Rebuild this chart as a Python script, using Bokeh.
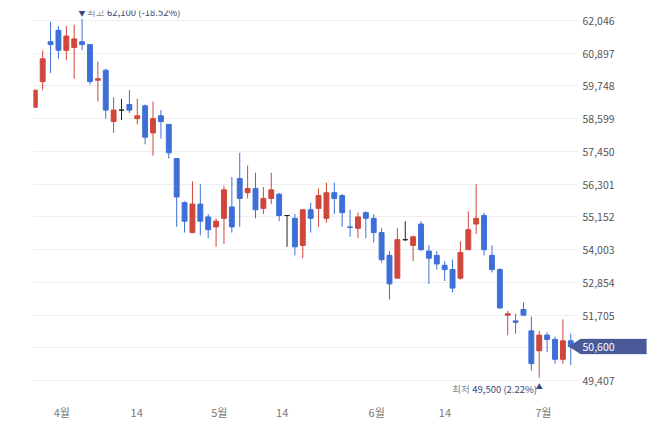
from bokeh.plotting import figure
from bokeh.models import (FixedTicker, NumeralTickFormatter, PolyAnnotation, Label,
                          Range1d, ColumnDataSource)
from bokeh.core.properties import value
from bokeh.embed import file_html
from bokeh.resources import INLINE

# --- data (daily candles, 2023-03-29 .. 2023-07-07) ---
opens = [59000, 59900, 61300, 61700, 61000, 61100, 61300, 61200, 59950, 60300,
         58500, 58900, 59100, 58600, 59050, 58100, 58700, 58400, 57200, 55650,
         54600, 55600, 55150, 54800, 55100, 55500, 56500, 56000, 56150, 55450,
         55800, 55950, 55200, 55100, 54150, 55400, 55450, 55100, 56000, 55900,
         54800, 54750, 55300, 55100, 54600, 53800, 53000, 54350, 54150, 54900,
         53950, 53800, 53450, 53300, 53000, 54000, 54900, 55200, 53800, 53300,
         51700, 51500, 51900, 51150, 50450, 51000, 50850, 50150, 50800]
highs = [59600, 61000, 62000, 61850, 61850, 61900, 62100, 61200, 60600, 60350,
         59350, 59300, 59600, 59300, 59100, 59200, 58900, 58400, 57200, 55700,
         56400, 56300, 55250, 55100, 56250, 56550, 57400, 56950, 56700, 56200,
         56700, 56000, 55200, 55250, 55400, 55650, 56150, 56350, 56350, 55950,
         55400, 55300, 55350, 55250, 54750, 53950, 54750, 55000, 54500, 55000,
         54150, 53950, 53600, 53650, 54300, 55350, 56300, 55300, 54150, 53350,
         51850, 51750, 52150, 51650, 51150, 51100, 50950, 51550, 51050]
lows = [59000, 59600, 60200, 60700, 60650, 60000, 61000, 59800, 59200, 58600,
        58100, 58550, 58800, 58400, 57700, 57300, 57900, 57200, 54800, 54600,
        54600, 54500, 54400, 54100, 54200, 54600, 54800, 55800, 55100, 55250,
        55600, 55000, 54100, 53800, 53700, 54600, 54800, 54950, 55250, 54800,
        54450, 54400, 54400, 54250, 53550, 52250, 53000, 54300, 53600, 53950,
        52800, 53300, 52900, 52500, 52950, 54000, 54550, 53800, 53200, 51950,
        51000, 51050, 51700, 49750, 49500, 50400, 50000, 50000, 49950]
closes = [59600, 60700, 61200, 61000, 61500, 61400, 61200, 59900, 60000, 58900,
          58900, 58900, 58900, 58700, 57950, 58600, 58500, 57400, 55850, 55000,
          55600, 55000, 54700, 55000, 56100, 54800, 55800, 56150, 55400, 55800,
          56100, 55200, 55200, 54100, 55400, 55100, 55900, 56000, 55800, 55300,
          54780, 55150, 55100, 54600, 53650, 52800, 54350, 54350, 54450, 54000,
          53700, 53500, 53300, 52650, 53900, 54700, 55100, 54000, 53300, 51950,
          51750, 51450, 51700, 50000, 51000, 50850, 50150, 50800, 50600]

x_tick_labels = ["4월", "14", "5월", "14", "6월", "14", "7월"]
x_tick_pos = [3.43, 12.93, 23.4, 31.39, 43.38, 52.04, 64.51]
y_ticks = [49407, 50556, 51705, 52854, 54003, 55152, 56301, 57450, 58599,
           59748, 60897, 62046]

UP = "#d0463b"
DOWN = "#3d70d6"
FLAT = "#222222"
NAVY = "#3a4577"
TAG = "#4a5a98"
FONT = "Noto Sans CJK KR"

n = len(opens)
idx = list(range(n))
colors = [UP if c > o else (DOWN if c < o else FLAT) for o, c in zip(opens, closes)]
src = ColumnDataSource(dict(
    x=idx, o=opens, h=highs, l=lows, c=closes,
    top=[max(o, c) for o, c in zip(opens, closes)],
    bot=[min(o, c) for o, c in zip(opens, closes)],
    col=colors))

X_END = 79.13          # frame spans to the right edge of the canvas
GRID_END = 68.85       # grid lines stop before the price labels

p = figure(width=658, height=448, output_backend="svg", toolbar_location=None,
           x_range=Range1d(-0.165, X_END), y_range=Range1d(48880, 62397),
           y_axis_location="right",
           min_border_left=33, min_border_right=0, min_border_top=10,
           min_border_bottom=53, outline_line_color=None,
           background_fill_color="white", border_fill_color="white")

p.segment(x0="x", y0="h", x1="x", y1="l", color="col", line_width=1, source=src)
p.vbar(x="x", width=0.62, top="top", bottom="bot", fill_color="col",
       line_color="col", line_width=1, source=src)

# axes
p.xgrid.grid_line_color = None
p.ygrid.grid_line_color = "#eeeeee"
p.ygrid.ticker = FixedTicker(ticks=y_ticks)
try:
    p.ygrid.cross_bounds = (-0.165, GRID_END)
except Exception:
    pass

xa = p.xaxis[0]
xa.ticker = FixedTicker(ticks=x_tick_pos)
xa.major_label_overrides = {pos: lab for pos, lab in zip(x_tick_pos, x_tick_labels)}
xa.axis_line_color = None
xa.major_tick_line_color = None
xa.minor_tick_line_color = None
xa.major_tick_in = 0
xa.major_tick_out = 0
xa.major_label_standoff = 8
xa.major_label_text_font = FONT
xa.major_label_text_font_size = "11px"
xa.major_label_text_color = "#777777"

ya = p.yaxis[0]
ya.ticker = FixedTicker(ticks=y_ticks)
ya.formatter = NumeralTickFormatter(format="0,0")
ya.major_label_overrides = {y_ticks[1]: " "}
ya.axis_line_color = None
ya.major_tick_line_color = None
ya.minor_tick_line_color = None
ya.major_tick_in = 0
ya.major_tick_out = 0
ya.major_label_standoff = -76
ya.major_label_text_font = FONT
ya.major_label_text_font_size = "10.5px"
ya.major_label_text_color = "#555555"

# high / low annotations
hi_i = highs.index(max(highs))
lo_i = lows.index(min(lows))
hi_v = highs[hi_i]
lo_v = lows[lo_i]
last = closes[-1]
hi_pct = (last - hi_v) / hi_v * 100
lo_pct = (last - lo_v) / lo_v * 100

p.text(x=[hi_i], y=[hi_v], text=["▼"], text_align="center", text_baseline="bottom",
       y_offset=-1, text_font=value(FONT), text_font_size="7px", text_color=NAVY)
p.text(x=[hi_i], y=[hi_v], text=["최고"], text_align="left", text_baseline="bottom",
       x_offset=5, y_offset=0, text_font=value(FONT), text_font_size="9.5px",
       text_color="#8a8a8a")
p.text(x=[hi_i], y=[hi_v], text=[f"{hi_v:,} ({hi_pct:.2f}%)"], text_align="left",
       text_baseline="bottom", x_offset=25, y_offset=0, text_font=value(FONT),
       text_font_size="9.5px", text_color=NAVY)

p.text(x=[lo_i], y=[lo_v], text=["▲"], text_align="center", text_baseline="top",
       y_offset=3, text_font=value(FONT), text_font_size="7px", text_color=NAVY)
p.text(x=[lo_i], y=[lo_v], text=["최저"], text_align="left", text_baseline="top",
       x_offset=-87, y_offset=4, text_font=value(FONT), text_font_size="9.5px",
       text_color="#8a8a8a")
p.text(x=[lo_i], y=[lo_v], text=[f"{lo_v:,} ({lo_pct:.2f}%)"], text_align="left",
       text_baseline="top", x_offset=-67, y_offset=4, text_font=value(FONT),
       text_font_size="9.5px", text_color=NAVY)

# current price tag
hh = 263
tag = PolyAnnotation(xs=[67.76, 69.25, 77.6, 77.6, 69.25],
                     ys=[last, last + hh, last + hh, last - hh, last - hh],
                     fill_color=TAG, fill_alpha=1.0, line_color=TAG, line_width=1)
p.add_layout(tag)
p.add_layout(Label(x=69.49, y=last, text=f"{last:,}", text_baseline="middle",
                   text_align="left", text_color="white", text_font=FONT,
                   text_font_size="10.5px"))

open("out.html", "w").write(file_html(p, INLINE))
